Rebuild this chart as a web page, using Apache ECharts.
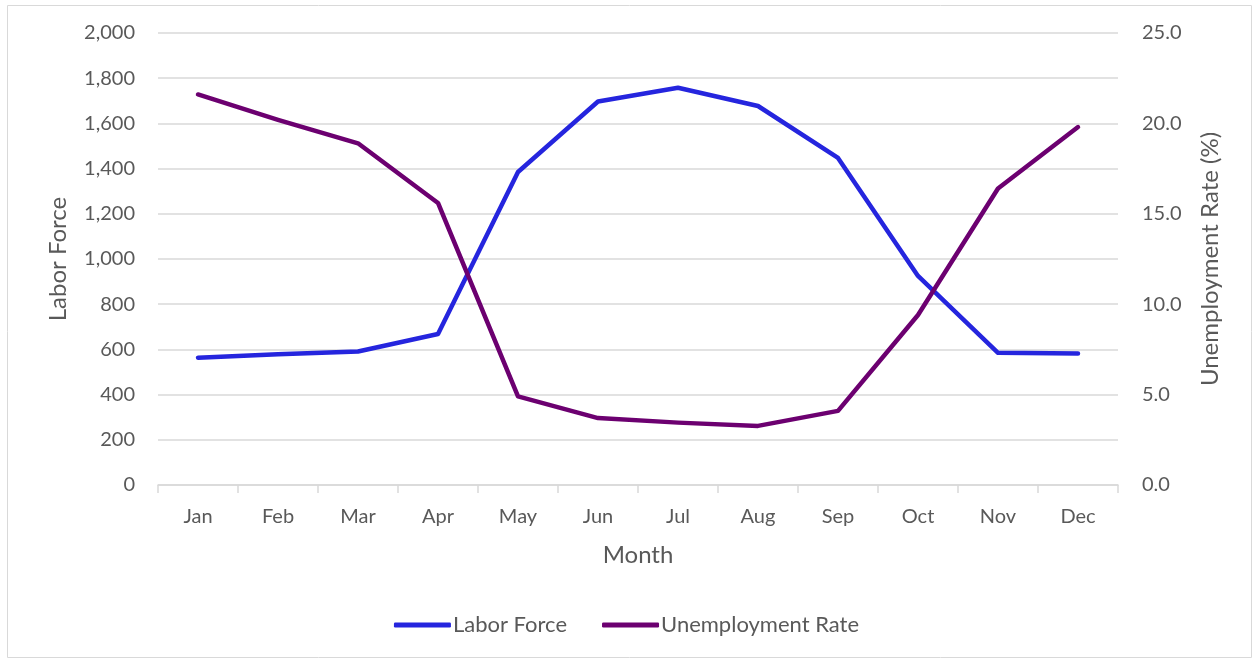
<!DOCTYPE html>
<html><head><meta charset="utf-8">
<script src="https://cdn.jsdelivr.net/npm/echarts@6/dist/echarts.min.js"></script>
<style>html,body{margin:0;padding:0;background:#fff}#c{width:1253px;height:662px}</style>
</head><body><div id="c"></div>
<script>
const months = ['Jan','Feb','Mar','Apr','May','Jun','Jul','Aug','Sep','Oct','Nov','Dec'];
const laborForce = [563, 578, 591, 668, 1385, 1697, 1758, 1677, 1447, 925, 585, 582];
const unemploymentRate = [21.6, 20.2, 18.9, 15.6, 4.9, 3.7, 3.45, 3.27, 4.1, 9.4, 16.4, 19.8];
const TXT = '#595959', GRID = '#D9D9D9', FONT = 'Lato';
const chart = echarts.init(document.getElementById('c'));
chart.setOption({
  animation: false,
  textStyle: {fontFamily: FONT},
  graphic: [{type:'rect', shape:{x:7.5,y:5.5,width:1244,height:652}, style:{fill:'none', stroke:GRID, lineWidth:1}}],
  grid: {left:158, right:135, top:33, bottom:177},
  legend: {
    bottom: 21, left: 'center', itemWidth: 57, itemHeight: 5, itemGap: 35, icon: 'roundRect',
    textStyle: {color: TXT, fontSize: 22, fontFamily: FONT, padding:[0,0,0,-3]},
    data: ['Labor Force', 'Unemployment Rate']
  },
  xAxis: {
    type: 'category', data: months, boundaryGap: true,
    name: 'Month', nameLocation: 'middle', nameGap: 58,
    nameTextStyle: {color: TXT, fontSize: 24, fontFamily: FONT},
    axisLine: {lineStyle: {color: GRID, width: 1.5}},
    axisTick: {show: true, length: 8, lineStyle: {color: GRID, width: 1.5}},
    axisLabel: {color: TXT, fontSize: 20, margin: 22, fontFamily: FONT}
  },
  yAxis: [{
    type: 'value', min: 0, max: 2000, interval: 200,
    name: 'Labor Force', nameLocation: 'middle', nameGap: 88, nameRotate: 90,
    nameTextStyle: {color: TXT, fontSize: 24, fontFamily: FONT},
    axisLine: {show: false}, axisTick: {show: false},
    splitLine: {lineStyle: {color: GRID, width: 1.5}},
    axisLabel: {color: TXT, fontSize: 20, margin: 23, fontFamily: FONT,
      formatter: v => v.toLocaleString('en-US')}
  }, {
    type: 'value', min: 0, max: 25, interval: 5, position: 'right',
    name: 'Unemployment Rate (%)', nameLocation: 'middle', nameGap: 80, nameRotate: 90,
    nameTextStyle: {color: TXT, fontSize: 24, fontFamily: FONT},
    axisLine: {show: false}, axisTick: {show: false}, splitLine: {show: false},
    axisLabel: {color: TXT, fontSize: 20, margin: 24, fontFamily: FONT,
      formatter: v => v.toFixed(1)}
  }],
  series: [{
    name: 'Labor Force', type: 'line', data: laborForce, yAxisIndex: 0,
    showSymbol: false, symbol: 'none', color: '#2525DE',
    lineStyle: {width: 4.5, color: '#2525DE', cap: 'round', join: 'round'}
  }, {
    name: 'Unemployment Rate', type: 'line', data: unemploymentRate, yAxisIndex: 1,
    showSymbol: false, symbol: 'none', color: '#6C0070',
    lineStyle: {width: 4.5, color: '#6C0070', cap: 'round', join: 'round'}
  }]
});
</script></body></html>
